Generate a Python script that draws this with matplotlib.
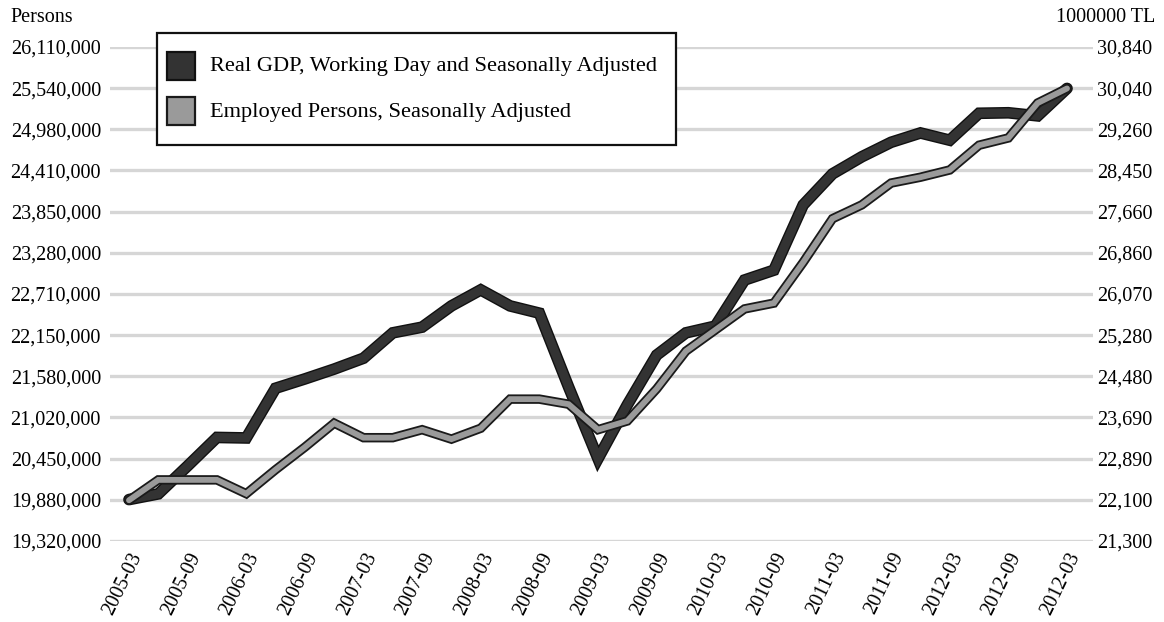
import matplotlib
matplotlib.use('Agg')
import matplotlib.pyplot as plt
import matplotlib.patheffects as pe
from matplotlib.patches import Rectangle
import numpy as np

# Quarterly periods 2005-03 ... 2013-03 (33 quarters)
quarters = [f"{y}-{m:02d}" for y in range(2005, 2014) for m in (3, 6, 9, 12)][:33]

# Real GDP, working day & seasonally adjusted (1000000 TL) - right axis
gdp = [22100, 22210, 22750, 23300, 23290, 24250, 24430, 24620, 24830,
       25320, 25430, 25840, 26150, 25840, 25700, 24270, 22890, 23930,
       24890, 25320, 25450, 26340, 26530, 27790, 28390, 28720, 29000,
       29180, 29040, 29560, 29570, 29510, 30040]

# Employed persons, seasonally adjusted - left axis
employed = [19880000, 20160000, 20160000, 20160000, 19970000, 20300000,
            20610000, 20940000, 20740000, 20740000, 20850000, 20720000,
            20870000, 21270000, 21270000, 21200000, 20850000, 20970000,
            21410000, 21930000, 22220000, 22510000, 22590000, 23150000,
            23750000, 23940000, 24240000, 24320000, 24420000, 24760000,
            24860000, 25340000, 25540000]

xtick_labels = ["2005-03", "2005-09", "2006-03", "2006-09", "2007-03",
                "2007-09", "2008-03", "2008-09", "2009-03", "2009-09",
                "2010-03", "2010-09", "2011-03", "2011-09", "2012-03",
                "2012-09", "2012-03"]

left_labels = ["19,320,000", "19,880,000", "20,450,000", "21,020,000",
               "21,580,000", "22,150,000", "22,710,000", "23,280,000",
               "23,850,000", "24,410,000", "24,980,000", "25,540,000",
               "26,110,000"]
right_labels = ["21,300", "22,100", "22,890", "23,690", "24,480", "25,280",
                "26,070", "26,860", "27,660", "28,450", "29,260", "30,040",
                "30,840"]

series_names = ["Real GDP, Working Day and Seasonally Adjusted",
                "Employed Persons, Seasonally Adjusted"]

left_min, left_max = 19320000, 26110000
right_min, right_max = 21300, 30840

plt.rcParams['font.family'] = ['Liberation Serif', 'DejaVu Serif']
FS = 14.5

W, H = 1164, 622
fig = plt.figure(figsize=(W / 100, H / 100), dpi=100)
fig.patch.set_facecolor('white')

ax2 = fig.add_axes([110 / W, 1 - 541 / H, 983 / W, 494 / H])  # right axis (GDP), below
ax = fig.add_axes(ax2.get_position(), sharex=ax2)              # left axis (persons), on top
ax.patch.set_visible(False)
ax.set_zorder(2)
ax2.set_zorder(1)

x = np.arange(len(quarters))

DARK, DARK_EDGE = '#333333', '#111111'
GRAY, GRAY_EDGE = '#9a9a9a', '#1a1a1a'

# GDP line (dark)
ax2.plot(x, gdp, color=DARK, lw=6.4, solid_joinstyle='miter',
         solid_capstyle='round', zorder=3, label=series_names[0],
         path_effects=[pe.Stroke(linewidth=8.4, foreground=DARK_EDGE), pe.Normal()])
# Employment line (gray)
ax.plot(x, employed, color=GRAY, lw=4.2, solid_joinstyle='miter',
        solid_capstyle='round', zorder=3, label=series_names[1],
        path_effects=[pe.Stroke(linewidth=6.8, foreground=GRAY_EDGE), pe.Normal()])

ax.set_ylim(left_min, left_max)
ax2.set_ylim(right_min, right_max)
ax.set_xlim(-0.648, 32.887)

lt = np.linspace(left_min, left_max, 13)
rt = np.linspace(right_min, right_max, 13)
ax.set_yticks(lt)
ax.set_yticklabels(left_labels, fontsize=FS)
ax2.set_yticks(rt)
ax2.set_yticklabels(right_labels, fontsize=FS)
ax.yaxis.tick_left()
ax2.yaxis.tick_right()
ax.tick_params(axis='y', length=0, pad=6.5)
ax2.tick_params(axis='y', length=0, pad=3, labelleft=False, labelright=True)
ax2.tick_params(axis='x', bottom=False, labelbottom=False)

ax2.set_axisbelow(True)
ax2.grid(axis='y', color='#d6d6d6', lw=2.4)
ax2.grid(axis='x', visible=False)

ax.set_xticks(x[::2])
ax.set_xticklabels(xtick_labels, rotation=64, ha='right', rotation_mode='anchor',
                   fontsize=FS)
ax.tick_params(axis='x', length=0, pad=6)

for a in (ax, ax2):
    for s in a.spines.values():
        s.set_visible(False)

fig.text(10 / W, 1 - 18 / H, "Persons", fontsize=FS, ha='left', va='center')
fig.text(1155 / W, 1 - 18 / H, "1000000 TL", fontsize=FS, ha='right', va='center')

# Legend box (drawn in figure pixel layout)
def fx(px):
    return px / W

def fy(py):
    return 1 - py / H

frame = Rectangle((fx(157), fy(145)), fx(676) - fx(157), fy(33) - fy(145),
                  transform=fig.transFigure, facecolor='white',
                  edgecolor='#111111', lw=1.6, zorder=10)
fig.add_artist(frame)
for name, fc, ec, cy in [(series_names[0], DARK, DARK_EDGE, 66),
                         (series_names[1], GRAY, GRAY_EDGE, 111)]:
    sw = Rectangle((fx(167), fy(cy + 14)), fx(195) - fx(167), fy(cy - 14) - fy(cy + 14),
                   transform=fig.transFigure, facecolor=fc, edgecolor=ec,
                   lw=1.6, zorder=11)
    fig.add_artist(sw)
    t = fig.text(fx(210), fy(cy + 1), name, fontsize=16.1, ha='left', va='center')
    t.set_zorder(11)

fig.savefig('out.png', dpi=100)
